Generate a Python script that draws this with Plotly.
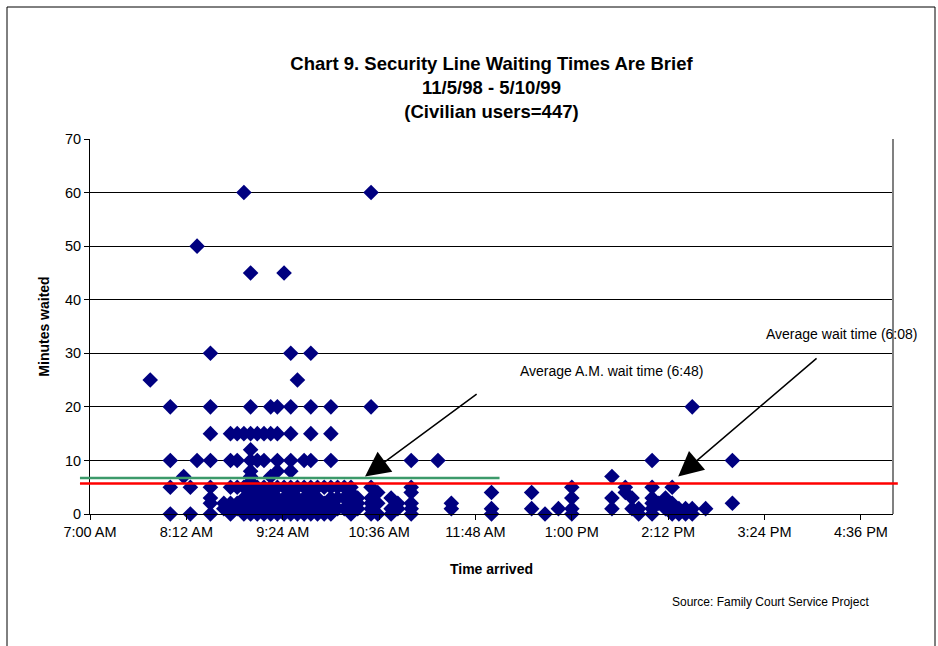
import plotly.graph_objects as go

# ---- data: arrival time (HH:MM) and minutes waited ----
arrival_times = (
    ["07:45"] +
    ["08:00"] * 4 + ["08:10"] + ["08:15"] * 2 + ["08:20"] * 2 +
    ["08:30"] * 8 + ["08:40"] * 2 + ["08:45"] * 5 + ["08:50"] * 5 +
    ["08:55"] * 6 + ["09:00"] * 14 + ["09:05"] * 8 + ["09:10"] * 7 +
    ["09:15"] * 9 + ["09:20"] * 9 + ["09:25"] * 6 + ["09:30"] * 11 +
    ["09:35"] * 6 + ["09:40"] * 6 + ["09:45"] * 10 + ["09:50"] * 5 +
    ["09:55"] * 4 + ["10:00"] * 8 + ["10:05"] * 3 + ["10:10"] * 3 +
    ["10:15"] * 5 + ["10:20"] * 3 + ["10:30"] * 7 + ["10:35"] * 3 +
    ["10:45"] * 3 + ["10:50"] * 2 + ["11:00"] * 6 + ["11:20"] +
    ["11:30"] * 2 + ["12:00"] * 3 + ["12:30"] * 2 + ["12:40"] +
    ["12:50"] + ["13:00"] * 4 + ["13:30"] * 3 + ["13:40"] * 2 +
    ["13:45"] * 2 + ["13:50"] * 2 + ["14:00"] * 6 + ["14:05"] +
    ["14:10"] * 2 + ["14:15"] * 4 + ["14:20"] * 2 + ["14:25"] * 2 +
    ["14:30"] * 3 + ["14:40"] + ["15:00"] * 2
)
minutes_waited = (
    [25] +
    [20, 10, 5, 0] + [7] + [5, 0] + [50, 10] +
    [30, 20, 15, 10, 5, 3, 2, 0] + [2, 1] + [15, 10, 5, 2, 0] + [15, 10, 5, 2, 1] +
    [60, 15, 5, 3, 1, 0] + [45, 20, 15, 12, 10, 8, 7, 6, 5, 4, 3, 2, 1, 0] +
    [15, 10, 5, 4, 3, 2, 1, 0] + [15, 10, 5, 3, 2, 1, 0] +
    [20, 15, 7, 5, 4, 3, 2, 1, 0] + [20, 15, 10, 8, 5, 3, 2, 1, 0] +
    [45, 5, 3, 2, 1, 0] + [30, 20, 15, 10, 8, 5, 4, 3, 2, 1, 0] +
    [25, 5, 3, 2, 1, 0] + [10, 5, 3, 2, 1, 0] + [30, 20, 15, 10, 5, 4, 3, 2, 1, 0] +
    [5, 3, 2, 1, 0] + [5, 2, 1, 0] + [20, 15, 10, 5, 3, 2, 1, 0] +
    [5, 3, 1] + [5, 3, 1] + [5, 4, 2, 1, 0] + [3, 2, 1] +
    [60, 20, 5, 3, 2, 1, 0] + [4, 2, 0] + [3, 1, 0] + [2, 1] +
    [10, 5, 4, 2, 1, 0] + [10] + [2, 1] + [4, 1, 0] + [4, 1] + [0] +
    [1] + [5, 3, 1, 0] + [7, 3, 1] + [5, 4] + [3, 1] + [1, 0] +
    [10, 5, 3, 2, 1, 0] + [2] + [3, 1] + [5, 2, 1, 0] + [1, 0] + [1, 0] +
    [20, 1, 0] + [1] + [10, 2]
)

AVG_AM_WAIT = 6.7   # "Average A.M. wait time (6:48)" line
AVG_WAIT = 5.7      # "Average wait time (6:08)" line

x_tick_labels = ["7:00 AM", "8:12 AM", "9:24 AM", "10:36 AM", "11:48 AM",
                 "1:00 PM", "2:12 PM", "3:24 PM", "4:36 PM"]
y_ticks = [0, 10, 20, 30, 40, 50, 60, 70]

DAY = "2000-01-01 "
xs = [DAY + t for t in arrival_times]

FONT = "Arial, Liberation Sans, sans-serif"

fig = go.Figure()
fig.add_trace(go.Scatter(
    x=xs, y=minutes_waited, mode="markers",
    marker=dict(symbol="diamond", size=12, color="#000080",
                line=dict(width=0)),
    showlegend=False, cliponaxis=False,
))

fig.update_layout(
    width=938, height=646,
    margin=dict(l=90, r=45, t=139, b=132, pad=0),
    paper_bgcolor="white", plot_bgcolor="white",
    font=dict(family=FONT, size=14, color="black"),
    title=dict(
        text="<b>Chart 9. Security Line Waiting Times Are Brief</b><br>"
             "<b>11/5/98 - 5/10/99</b><br><b>(Civilian users=447)</b>",
        x=0.5, xref="paper", xanchor="center",
        y=1 - 70 / 646, yref="container", yanchor="top",
        font=dict(family=FONT, size=18.5, color="black"),
    ),
    xaxis=dict(
        type="date",
        range=[DAY + "07:00", DAY + "17:00"],
        tick0=DAY + "07:00", dtick=72 * 60 * 1000,
        tickformat="%-I:%M %p",
        showgrid=False, zeroline=False,
        showline=True, linecolor="black", linewidth=1,
        ticks="outside", ticklen=5, tickcolor="black",
        tickfont=dict(size=14.5),
        title=dict(text="<b>Time arrived</b>", font=dict(size=14), standoff=24),
    ),
    yaxis=dict(
        range=[0, 70], tickvals=y_ticks,
        showgrid=True, gridcolor="black", gridwidth=1,
        zeroline=False,
        showline=True, linecolor="black", linewidth=1,
        ticks="outside", ticklen=5, tickcolor="black",
        tickfont=dict(size=14.5),
        title=dict(text="<b>Minutes waited</b>", font=dict(size=14), standoff=12),
    ),
)

# plot-area frame (gray right edge)
fig.add_shape(type="line", xref="paper", yref="paper", x0=1, x1=1, y0=0, y1=1,
              line=dict(color="#808080", width=2))
# average lines
fig.add_shape(type="line", xref="paper", yref="y", x0=-0.0125, x1=0.51,
              y0=AVG_AM_WAIT, y1=AVG_AM_WAIT, line=dict(color="#3C9A6A", width=2.5))
fig.add_shape(type="line", xref="paper", yref="y", x0=-0.0125, x1=1.006,
              y0=AVG_WAIT, y1=AVG_WAIT, line=dict(color="#FF0000", width=2.5))

# outer border
fig.add_shape(type="rect", xref="paper", yref="paper",
              x0=(7 - 90) / 803, x1=(935 - 90) / 803,
              y0=(514 - 660) / 375, y1=(514 - 7) / 375,
              line=dict(color="black", width=1), fillcolor="rgba(0,0,0,0)")

# labels
fig.add_annotation(text="Average A.M. wait time (6:48)", xref="paper", yref="paper",
                   x=(518 - 90) / 803, y=(514 - 371) / 375, xanchor="left", yanchor="middle",
                   showarrow=False, font=dict(size=14))
fig.add_annotation(text="Average wait time (6:08)", xref="paper", yref="paper",
                   x=(764 - 90) / 803, y=(514 - 334) / 375, xanchor="left", yanchor="middle",
                   showarrow=False, font=dict(size=14))
fig.add_annotation(text="Source: Family Court Service Project", xref="paper", yref="paper",
                   x=(670 - 90) / 803, y=(514 - 602) / 375, xanchor="left", yanchor="middle",
                   showarrow=False, font=dict(size=12))

# arrows (tail -> head, in data coordinates)
fig.add_annotation(x=DAY + "10:25:30", y=7.0, ax=DAY + "11:50", ay=22.6,
                   axref="x", ayref="y", xref="x", yref="y", text="",
                   showarrow=True, arrowhead=2, arrowsize=3.3, arrowwidth=1.5,
                   arrowcolor="black")
fig.add_annotation(x=DAY + "14:19:30", y=7.0, ax=DAY + "16:04", ay=29.3,
                   axref="x", ayref="y", xref="x", yref="y", text="",
                   showarrow=True, arrowhead=2, arrowsize=3.3, arrowwidth=1.5,
                   arrowcolor="black")

fig.write_html("out.html")
